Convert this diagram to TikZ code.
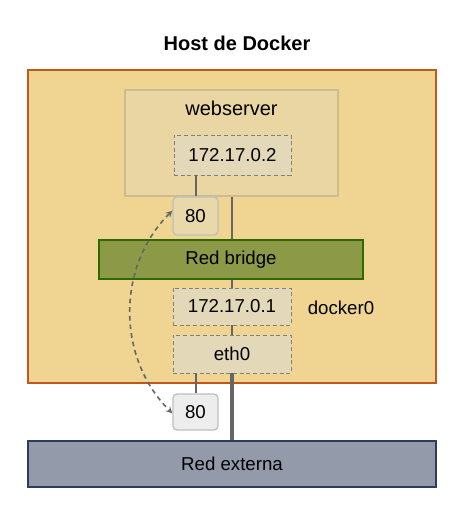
\documentclass[tikz,border=0pt]{standalone}
\usepackage{fontspec}
\setmainfont{Liberation Sans}
\usepackage{tikz}
\usetikzlibrary{scopes,arrows}

\definecolor{hostfill}{HTML}{EFD591}
\definecolor{hostline}{HTML}{C0581A}
\definecolor{webfill}{HTML}{E9D6A2}
\definecolor{webline}{HTML}{CBBD90}
\definecolor{ipfill}{HTML}{E3D8B8}
\definecolor{portfill}{HTML}{E8D8AA}
\definecolor{bridgefill}{HTML}{8C9A48}
\definecolor{bridgeline}{HTML}{2D6A00}
\definecolor{netfill}{HTML}{939AA9}
\definecolor{netline}{HTML}{2E3B5A}
\definecolor{wire}{HTML}{666666}

\begin{document}
\begin{tikzpicture}[
    x=0.75pt, y=-0.75pt,
    txt/.style={font=\fontsize{14}{16}\selectfont},
    title/.style={font=\fontsize{15}{18}\selectfont\bfseries},
    host/.style={rectangle,draw=hostline,fill=hostfill,line width=1.5pt},
    web/.style={rectangle,draw=webline,fill=webfill,line width=1.5pt},
    ip/.style={rectangle,draw=gray,fill=ipfill,densely dashed,thin,txt},
    port/.style={rectangle,rounded corners=3pt,draw=black!25,fill=portfill,line width=1pt,txt},
    bridge/.style={rectangle,draw=bridgeline,fill=bridgefill,line width=1.5pt,txt},
    extnet/.style={rectangle,draw=netline,fill=netfill,line width=1.5pt,txt},
    link/.style={draw=wire,line width=1.5pt},
    uplink/.style={draw=wire,line width=2.6pt},
    nat/.style={>=stealth,<->,draw=wire,fill=wire,line width=1.2pt,dash pattern=on 3.5pt off 3pt},
]
    \useasboundingbox (0,0) rectangle (464,515);

    %%%
    % Host and its containers
    \node[title] (hostname) at (237,43) {Host de Docker};
    \node[host,minimum width=408*0.75pt,minimum height=313*0.75pt] (dockerhost) at (232,226.5) {};
    \node[web,minimum width=213*0.75pt,minimum height=106*0.75pt] (websrv) at (231.5,143) {};
    \node[txt,font=\fontsize{15}{17}\selectfont] (webname) at (231.5,108) {webserver};
    \node[ip,minimum width=117*0.75pt,minimum height=40*0.75pt] (ipweb) at (232.5,155) {172.17.0.2};
    \node[port,minimum width=45*0.75pt,minimum height=38*0.75pt] (portin) at (195.5,216) {80};

    %%%
    % Bridge network
    \node[bridge,minimum width=264*0.75pt,minimum height=39*0.75pt] (redbridge) at (231,259.5) {Red bridge};
    \node[ip,minimum width=118*0.75pt,minimum height=37*0.75pt] (ipbridge) at (232,306.5) {172.17.0.1};
    \node[txt] (dockername) at (341,308) {docker0};
    \node[ip,minimum width=118*0.75pt,minimum height=38*0.75pt] (eth) at (232,354) {eth0};
    \node[port,fill=black!7,minimum width=45*0.75pt,minimum height=36*0.75pt] (portout) at (195.5,412) {80};
    \node[extnet,minimum width=408*0.75pt,minimum height=46*0.75pt] (redext) at (232,464) {Red externa};

    {[link]
        \draw (ipweb.south -| portin) -- (portin.north);
        \draw (websrv.south -| ipbridge) -- (redbridge.north -| ipbridge);
        \draw (redbridge.south -| ipbridge) -- (ipbridge.north);
        \draw (ipbridge.south) -- (eth.north);
        \draw (eth.south -| portout) -- (portout.north);
    }
    \draw[uplink] (eth.south) -- (redext.north);

    {[nat]
        \draw ([yshift=4pt]portin.west) to[bend right=45] ([yshift=-1pt]portout.west);
    }

\end{tikzpicture}
\end{document}
